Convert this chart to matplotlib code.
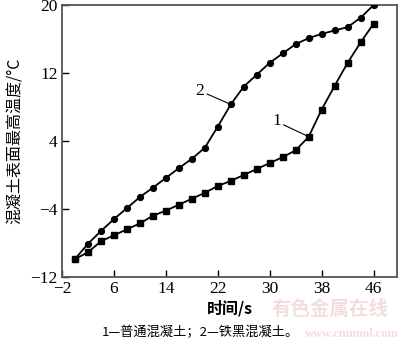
import matplotlib
matplotlib.use("Agg")
import matplotlib.pyplot as plt

time_s = [0, 2, 4, 6, 8, 10, 12, 14, 16, 18, 20, 22, 24, 26, 28, 30, 32, 34, 36, 38, 40, 42, 44, 46]
ordinary = [-9.9, -9.1, -7.8, -7.1, -6.4, -5.7, -4.8, -4.2, -3.5, -2.8, -2.1, -1.3, -0.7, 0.0,
            0.7, 1.4, 2.1, 2.9, 4.5, 7.7, 10.5, 13.2, 15.6, 17.8]
iron_black = [-9.9, -8.1, -6.6, -5.2, -3.9, -2.6, -1.5, -0.35, 0.8, 1.9, 3.2, 5.7, 8.3, 10.4,
              11.8, 13.2, 14.3, 15.4, 16.1, 16.6, 17.0, 17.4, 18.5, 20.0]
xticks = [-2, 6, 14, 22, 30, 38, 46]
yticks = [-12, -4, 4, 12, 20]

serif = ['Liberation Serif', 'DejaVu Serif']
cjk = ['Noto Sans CJK SC', 'DejaVu Sans']
plt.rcParams['font.family'] = serif

fig = plt.figure(figsize=(4.0, 3.44), dpi=100)
ax = fig.add_axes([0.155, 0.195, 0.8375, 0.7905])

ax.plot(time_s, ordinary, color='black', lw=1.3, marker='s', ms=4.2, zorder=3)
ax.plot(time_s, iron_black, color='black', lw=1.3, marker='o', ms=4.2, zorder=3)

ax.set_xlim(-2, 49.6)
ax.set_ylim(-12, 20)
ax.set_xticks(xticks)
ax.set_yticks(yticks)
ax.set_xticklabels([str(v).replace('-', '\u2212') for v in xticks], fontfamily=serif, fontsize=12.5)
ax.set_yticklabels([str(v).replace('-', '\u2212') for v in yticks], fontfamily=serif, fontsize=12.5)
ax.tick_params(direction='in', length=5, width=1, top=False, right=False, pad=3)
for s in ax.spines.values():
    s.set_color('#555555')
    s.set_linewidth(1.3)

# annotations
ax.annotate('2', xy=(24, 8.3), xytext=(19.9, 9.9), fontfamily=serif, fontsize=12.5,
            ha='right', va='center',
            arrowprops=dict(arrowstyle='-', color='black', lw=0.8, shrinkA=0, shrinkB=0))
ax.annotate('1', xy=(36, 4.5), xytext=(31.7, 6.3), fontfamily=serif, fontsize=12.5,
            ha='right', va='center',
            arrowprops=dict(arrowstyle='-', color='black', lw=0.8, shrinkA=0, shrinkB=0))

# watermark
fig.text(330 / 400, 1 - 309 / 344, '有色金属在线', fontfamily=cjk, fontsize=14, color='#f3dede',
         ha='center', va='center', fontweight='bold', zorder=0)
fig.text(352 / 400, 1 - 334 / 344, 'www.cnnmol.com', fontfamily=serif, fontsize=9, color='#f3dede',
         ha='center', va='center', fontweight='bold', zorder=0)

ax.set_ylabel('混凝土表面最高温度/°C', fontfamily=cjk, fontsize=11.5, fontweight='medium')
ax.yaxis.set_label_coords(-0.115, 0.5)
fig.text(229.5 / 400, 1 - 308 / 344, '时间/s', fontfamily=cjk, fontsize=11.5,
         fontweight='bold', ha='center', va='center')
fig.text(200 / 400, 1 - 332 / 344, '1—普通混凝土；2—铁黑混凝土。', fontfamily=cjk,
         fontsize=9.5, ha='center', va='center')

fig.savefig('out.png', dpi=100)
